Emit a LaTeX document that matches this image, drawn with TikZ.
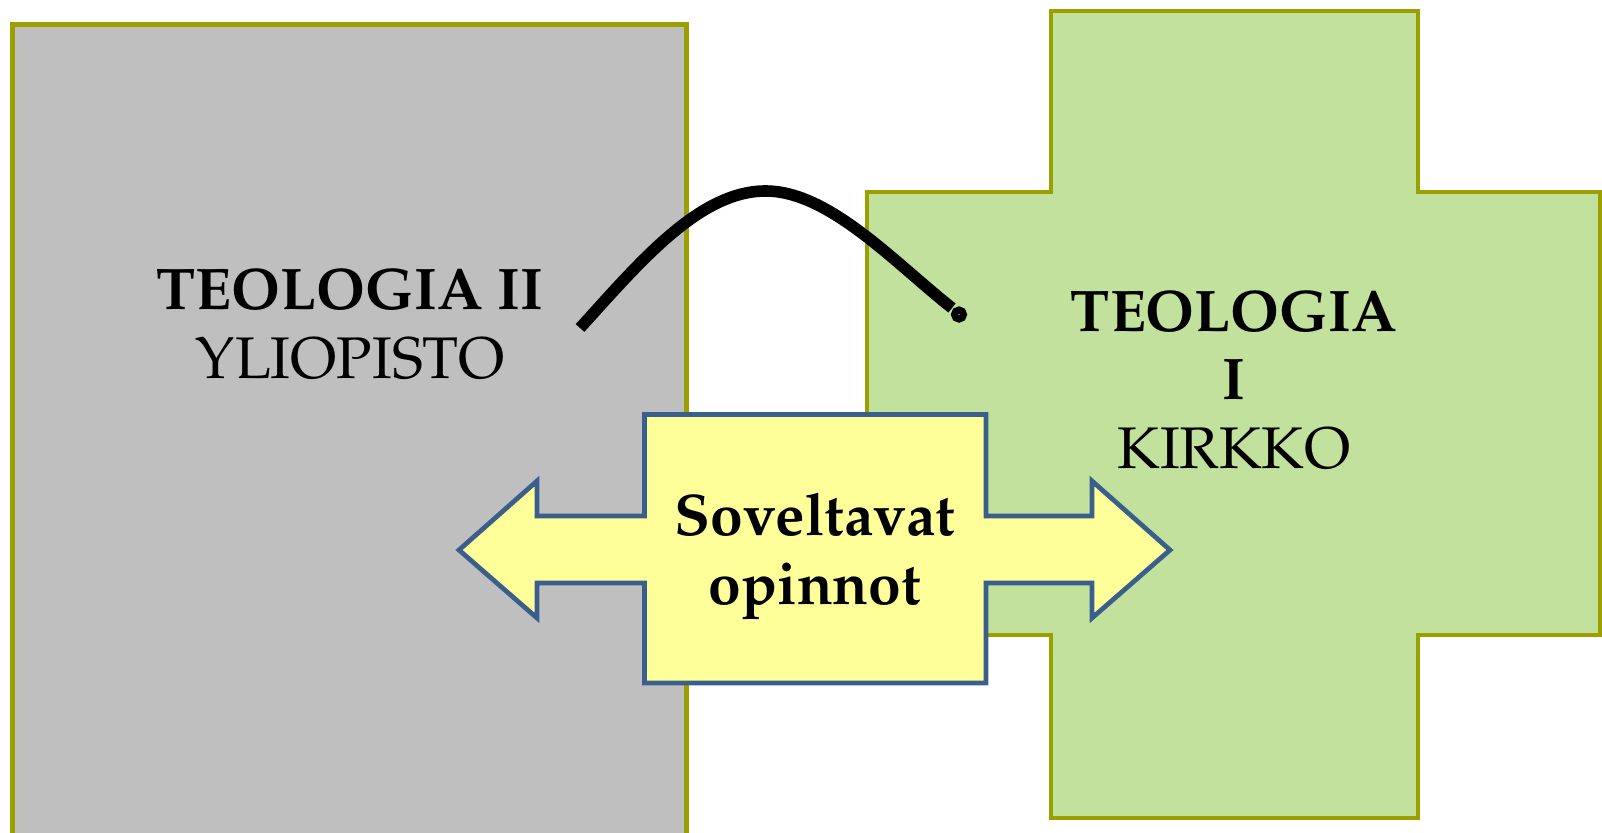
\documentclass[tikz,border=0pt]{standalone}
\usepackage[T1]{fontenc}
\renewcommand{\rmdefault}{ppl}
\usepackage{tikz}
\usetikzlibrary{
  calc,
  positioning,
}
\definecolor{olivedge}{RGB}{155,160,0}
\definecolor{greyfill}{RGB}{191,191,191}
\definecolor{crossfill}{RGB}{193,225,156}
\definecolor{arrowfill}{RGB}{255,255,153}
\definecolor{arrowedge}{RGB}{58,95,140}
\tikzset{
  block/.style = {
      draw=olivedge,
      line width=1.4pt,
      line join=miter,
    },
  label/.style = {
      align=center,
      font=\fontsize{16.7pt}{19.6pt}\selectfont,
      inner sep=0pt,
    },
  bridge/.style = {
      line width=3.3pt,
      draw=black,
    },
}

\begin{document}
\begin{tikzpicture}[x=0.01cm, y=-0.01cm]
    \clip (0,0) rectangle (1602,833);

    % yliopisto
    \draw[block, fill=greyfill] (12.5,24.5) rectangle (686.5,860);
    % kirkko
    \draw[block, fill=crossfill] (1051,11) -- (1418,11) -- (1418,192) -- (1600,192) -- (1600,635) -- (1418,635)
      -- (1418,818) -- (1051,818) -- (1051,635) -- (867,635) -- (867,192) -- (1051,192) -- cycle;

    \coordinate (from) at (580,328);
    \coordinate (to) at (952,308);
    \draw[bridge] (from) .. controls (640,262) and (700,190) .. (767,191)
      .. controls (830,192) and (895,263) .. (to);
    \draw[line width=2pt] (959,314.5) circle (4.5);

    % soveltavat
    \draw[draw=arrowedge, line width=1.35pt, fill=arrowfill, line join=miter]
      (644.5,414.5) -- (986,414.5) -- (986,516) -- (1092,516) -- (1092,481) -- (1170,550) -- (1092,618) -- (1092,583)
      -- (986,583) -- (986,683) -- (644.5,683) -- (644.5,583) -- (537,583) -- (537,618) -- (459,550) -- (537,481)
      -- (537,516) -- (644.5,516) -- cycle;

    \node[label] (yo) at (350,324) {\textbf{TEOLOGIA II}\\YLIOPISTO};
    \node[label] (ki) at (1234,380) {\textbf{TEOLOGIA}\\\textbf{I}\\KIRKKO};
    \node[label] (so) at (815,556) {\textbf{Soveltavat}\\\textbf{opinnot}};
  \end{tikzpicture}
\end{document}
